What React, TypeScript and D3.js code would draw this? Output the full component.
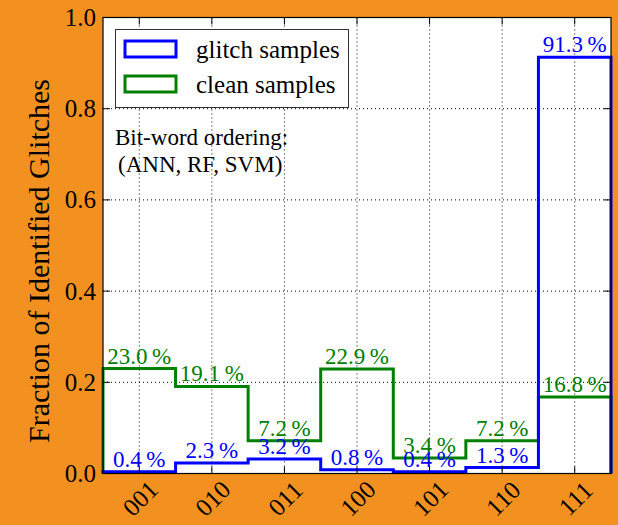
import React from "react";
import * as d3 from "d3";

const categories = ["001", "010", "011", "100", "101", "110", "111"];
const glitchValues = [0.004, 0.023, 0.032, 0.008, 0.004, 0.013, 0.913];
const cleanValues = [0.23, 0.191, 0.072, 0.229, 0.034, 0.072, 0.168];
const yTicks = [0, 0.2, 0.4, 0.6, 0.8, 1.0];
const seriesNames = ["glitch samples", "clean samples"];

const W = 618;
const H = 525;
const M = { left: 103, right: 7, top: 17.5, bottom: 51.5 };
const FONT = "'Liberation Serif', 'Times New Roman', serif";
const BG = "#F39120";
const BLUE = "#0000ff";
const GREEN = "#008000";

export default function App() {
  const x = d3
    .scaleLinear()
    .domain([-0.5, categories.length - 0.5])
    .range([M.left, W - M.right]);
  const y = d3.scaleLinear().domain([0, 1]).range([H - M.bottom, M.top]);

  const stepPath = (vals: number[]) => {
    const pts: [number, number][] = [[-0.5, 0]];
    vals.forEach((v, i) => {
      pts.push([i - 0.5, v]);
      pts.push([i + 0.5, v]);
    });
    pts.push([vals.length - 0.5, 0]);
    return d3
      .line<[number, number]>()
      .x((d) => x(d[0]))
      .y((d) => y(d[1]))(pts) as string;
  };

  const fmt = (v: number) => `${(v * 100).toFixed(1)}\u2009%`;
  const x0 = M.left;
  const x1 = W - M.right;
  const y0 = H - M.bottom;
  const y1 = M.top;
  const tick = 7;

  const series = [
    { vals: cleanValues, color: GREEN },
    { vals: glitchValues, color: BLUE },
  ];

  return (
    <svg
      width={W}
      height={H}
      style={{ position: "absolute", left: 0, top: 0, display: "block" }}
      fontFamily={FONT}
    >
      <rect x={0} y={0} width={W} height={H} fill={BG} />
      <rect x={x0} y={y1} width={x1 - x0} height={y0 - y1} fill="#fff" />

      {/* grid */}
      {categories.map((c, i) => (
        <line
          key={"gx" + c}
          x1={x(i)}
          x2={x(i)}
          y1={y1}
          y2={y0}
          stroke="#000"
          strokeWidth={1}
          strokeDasharray="1,3"
        />
      ))}
      {yTicks.slice(1, -1).map((t) => (
        <line
          key={"gy" + t}
          x1={x0}
          x2={x1}
          y1={y(t)}
          y2={y(t)}
          stroke="#000"
          strokeWidth={1}
          strokeDasharray="1,3"
        />
      ))}

      {/* step series */}
      {series.map((s, k) => (
        <path
          key={"s" + k}
          d={stepPath(s.vals)}
          fill="none"
          stroke={s.color}
          strokeWidth={3}
        />
      ))}

      {/* frame and ticks */}
      <rect
        x={x0}
        y={y1}
        width={x1 - x0}
        height={y0 - y1}
        fill="none"
        stroke="#000"
        strokeWidth={1.2}
      />
      {categories.map((c, i) => (
        <g key={"tx" + c}>
          <line x1={x(i)} x2={x(i)} y1={y0} y2={y0 - tick} stroke="#000" />
          <line x1={x(i)} x2={x(i)} y1={y1} y2={y1 + tick} stroke="#000" />
          <text
            transform={`translate(${x(i) + 1},${y0 + 25}) rotate(-45)`}
            textAnchor="middle"
            dominantBaseline="central"
            fontSize={25}
          >
            {c}
          </text>
        </g>
      ))}
      {yTicks.map((t) => (
        <g key={"ty" + t}>
          <line x1={x0} x2={x0 + tick} y1={y(t)} y2={y(t)} stroke="#000" />
          <line x1={x1} x2={x1 - tick} y1={y(t)} y2={y(t)} stroke="#000" />
          <text
            x={x0 - 7}
            y={y(t)}
            textAnchor="end"
            dominantBaseline="central"
            fontSize={25}
          >
            {t.toFixed(1)}
          </text>
        </g>
      ))}

      {/* value labels */}
      {series.map((s, k) =>
        s.vals.map((v, i) => (
          <text
            key={`l${k}-${i}`}
            x={x(i)}
            y={y(v) - 5}
            textAnchor="middle"
            fill={s.color}
            fontSize={23}
          >
            {fmt(v)}
          </text>
        ))
      )}

      <text
        transform={`translate(49,261) rotate(-90)`}
        textAnchor="middle"
        fontSize={30}
      >
        Fraction of Identified Glitches
      </text>

      {/* legend */}
      <rect x={115.5} y={29.5} width={233} height={78} fill="#fff" stroke="#333" strokeWidth={1} />
      {seriesNames.map((n, k) => (
        <g key={"lg" + n}>
          <rect
            x={125}
            y={41 + k * 35}
            width={51}
            height={16}
            fill="#fff"
            stroke={k === 0 ? BLUE : GREEN}
            strokeWidth={3}
          />
          <text x={196} y={58 + k * 35} fontSize={25}>
            {n}
          </text>
        </g>
      ))}

      <text x={115} y={145} fontSize={23}>
        Bit-word ordering:
      </text>
      <text x={118} y={172} fontSize={23}>
        (ANN, RF, SVM)
      </text>
    </svg>
  );
}
